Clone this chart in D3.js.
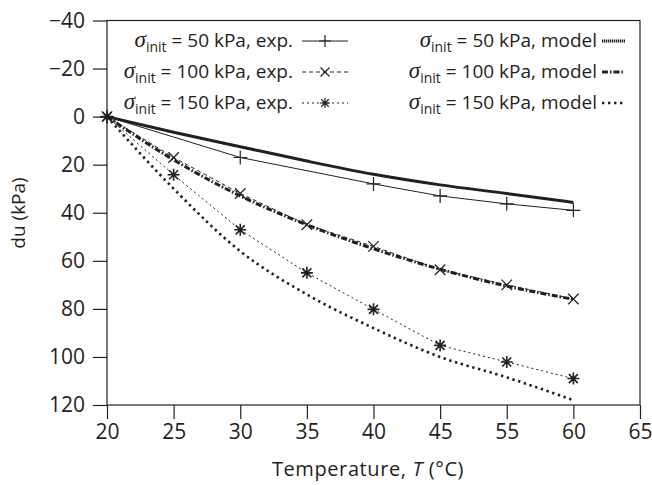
<!DOCTYPE html>
<html>
<head>
<meta charset="utf-8">
<title>du vs temperature</title>
<script src="https://d3js.org/d3.v7.min.js"></script>
<style>
  body { margin: 0; background: #fff; }
  text { font-family: "Open Sans", sans-serif; fill: #231f20; }
  .axis path, .axis line { stroke: #231f20; stroke-width: 1.2px; }
  .axis text { font-size: 21px; font-family: "Open Sans", sans-serif; fill: #231f20; }
</style>
</head>
<body>
<div id="viz"></div>
<script>
// tick labels (note the x axis skips 50)
var xLabels = ["20", "25", "30", "35", "40", "45", "55", "60", "65"];
var yTicks = [-40, -20, 0, 20, 40, 60, 80, 100, 120];

// experimental points
var expT50 = ["20", "30", "40", "45", "55", "60"];
var exp50 = [0, 17, 28, 33, 36.3, 39];
var expT = ["20", "25", "30", "35", "40", "45", "55", "60"];
var exp100 = [0, 17, 32, 45, 54, 63.7, 70, 75.9];
var exp150 = [0, 24.2, 47.1, 65, 80.2, 95.2, 102.1, 109];

// model curves
var modelT = ["20", "25", "30", "35", "40", "45", "55", "60"];
var model50 = [0, 6.5, 12.5, 18.5, 24, 28.4, 32, 35.7];
var model100 = [0, 18, 33, 45, 55, 63.5, 70.5, 76];
var model150 = [0, 30, 56, 74, 88, 100, 108.5, 118];

var width = 652, height = 485;
var svg = d3.select("#viz").append("svg")
    .attr("width", width)
    .attr("height", height);

var x = d3.scalePoint().domain(xLabels).range([107, 640]);
var y = d3.scaleLinear().domain([-40, 120]).range([20.5, 405]);

function zip(ts, vs) { return ts.map(function(t, i) { return {t: t, v: vs[i]}; }); }

// frame
svg.append("rect")
    .attr("x", x.range()[0]).attr("y", y(-40))
    .attr("width", x.range()[1] - x.range()[0])
    .attr("height", y(120) - y(-40))
    .style("fill", "none").style("stroke", "#231f20").style("stroke-width", 1.2);

var xAxis = svg.append("g").attr("class", "axis")
    .attr("transform", "translate(0," + y(120) + ")")
    .call(d3.axisBottom(x).tickSize(14).tickPadding(5));
xAxis.select(".domain").remove();

var yAxis = svg.append("g").attr("class", "axis")
    .attr("transform", "translate(" + x.range()[0] + ",0)")
    .call(d3.axisLeft(y).tickValues(yTicks).tickSize(14).tickPadding(8)
      .tickFormat(function(d) { return d < 0 ? "\u2212" + (-d) : d; }));
yAxis.select(".domain").remove();

// axis titles
svg.append("text")
    .attr("x", 368).attr("y", 476)
    .attr("text-anchor", "middle")
    .style("font-size", "20px")
    .style("letter-spacing", "0.6px")
    .html('Temperature, <tspan font-style="italic">T</tspan> (°C)');

svg.append("text")
    .attr("transform", "translate(25,213) rotate(-90)")
    .attr("text-anchor", "middle")
    .style("font-size", "19px")
    .text("du (kPa)");

// line styles
var styles = {
  e50:  {w: 1, dash: null},
  e100: {w: 1, dash: "4,3"},
  e150: {w: 1, dash: "2,3"},
  m50:  {w: 3, dash: null},
  m100: {w: 3, dash: "6,2,1.5,2"},
  m150: {w: 2.6, dash: "2.4,3.6"}
};

var lineLin = d3.line().x(function(d) { return x(d.t); }).y(function(d) { return y(d.v); });
var lineSmooth = d3.line().x(function(d) { return x(d.t); }).y(function(d) { return y(d.v); })
    .curve(d3.curveMonotoneX);

function drawLine(data, st, gen) {
  svg.append("path")
      .datum(data)
      .attr("d", gen)
      .style("fill", "none")
      .style("stroke", "#231f20")
      .style("stroke-width", st.w)
      .style("stroke-dasharray", st.dash);
}

drawLine(zip(modelT, model50), styles.m50, lineSmooth);
drawLine(zip(modelT, model100), styles.m100, lineSmooth);
drawLine(zip(modelT, model150), styles.m150, lineSmooth);
drawLine(zip(expT50, exp50), styles.e50, lineLin);
drawLine(zip(expT, exp100), styles.e100, lineLin);
drawLine(zip(expT, exp150), styles.e150, lineLin);

// markers
function markerPath(type, s) {
  var plus = "M" + (-s) + ",0H" + s + "M0," + (-s) + "V" + s;
  var k = s * 0.75;
  var times = "M" + (-k) + "," + (-k) + "L" + k + "," + k + "M" + (-k) + "," + k + "L" + k + "," + (-k);
  if (type === "plus") return plus;
  if (type === "times") return times;
  return plus + times;
}

function drawMarkers(data, type, s) {
  svg.append("g").selectAll("path")
    .data(data)
    .join("path")
      .attr("transform", function(d) { return "translate(" + x(d.t) + "," + y(d.v) + ")"; })
      .attr("d", markerPath(type, s))
      .style("fill", "none")
      .style("stroke", "#231f20")
      .style("stroke-width", type === "star" ? 1.6 : 1.2);
}

drawMarkers(zip(expT50, exp50), "plus", 7);
drawMarkers(zip(expT, exp100), "times", 7);
drawMarkers(zip(expT, exp150), "star", 6);

// legend
var legendRows = [
  {p: "50", lbl: "exp.", st: styles.e50, mk: "plus", col: 0},
  {p: "100", lbl: "exp.", st: styles.e100, mk: "times", col: 0},
  {p: "150", lbl: "exp.", st: styles.e150, mk: "star", col: 0},
  {p: "50", lbl: "model", st: {w: 3, dash: "1.3,0.7"}, mk: null, col: 1},
  {p: "100", lbl: "model", st: styles.m100, mk: null, col: 1},
  {p: "150", lbl: "model", st: styles.m150, mk: null, col: 1}
];
var rowY = [47, 78, 109];
var cols = [{textEnd: 293, x0: 302, x1: 348}, {textEnd: 597, x0: 602, x1: 625}];

legendRows.forEach(function(r, i) {
  var c = cols[r.col], yy = rowY[i % 3];
  var t = svg.append("text")
      .attr("x", c.textEnd).attr("y", yy)
      .attr("text-anchor", "end")
      .style("font-size", "19px");
  t.append("tspan").attr("font-family", "Liberation Serif, serif").attr("font-style", "italic")
      .style("font-size", "23px").text("\u03c3");
  t.append("tspan").attr("dy", 5).style("font-size", "14px").text("init");
  t.append("tspan").attr("dy", -5).text(" = " + r.p + " kPa, " + r.lbl);

  svg.append("line")
      .attr("x1", c.x0).attr("x2", c.x1)
      .attr("y1", yy - 6).attr("y2", yy - 6)
      .style("stroke", "#231f20")
      .style("stroke-width", r.st.w)
      .style("stroke-dasharray", r.st.dash);
  if (r.mk) {
    svg.append("path")
        .attr("transform", "translate(" + (c.x0 + c.x1) / 2 + "," + (yy - 6) + ")")
        .attr("d", markerPath(r.mk, r.mk === "star" ? 5 : 6))
        .style("fill", "none").style("stroke", "#231f20").style("stroke-width", 1.2);
  }
});
</script>
</body>
</html>
